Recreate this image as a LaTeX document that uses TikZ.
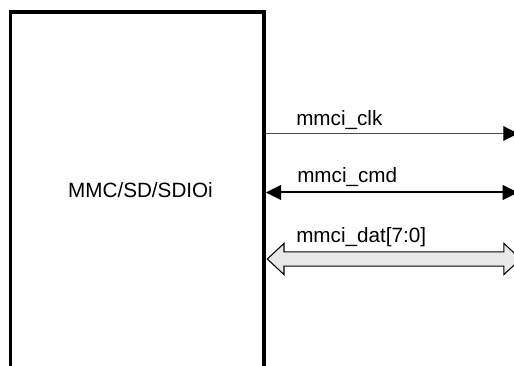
\documentclass[tikz,border=0pt]{standalone}
\usepackage{fontspec}
\setmainfont{Liberation Sans}
\usetikzlibrary{arrows.meta,positioning,shapes.arrows}

\begin{document}
\begin{tikzpicture}[x=0.75pt,y=-0.75pt]
\tikzset{
  blockbox/.style={rectangle,draw=black,line width=2.6pt,minimum width=190pt,minimum height=300pt,inner sep=0pt},
  sigtext/.style={font=\fontsize{15.5}{18}\selectfont,inner sep=0pt,anchor=base west},
  clkline/.style={draw=black!70,line width=0.8pt,-{Triangle[length=11pt,width=11pt,color=black]}},
  cmdline/.style={draw=black,line width=1.5pt,{Triangle[length=11.5pt,width=11pt]}-{Triangle[length=11.5pt,width=11pt]}},
  busarrow/.style={double arrow,draw=black,line width=0.8pt,fill=black!9,inner sep=4.9pt,
    double arrow head extend=6.4pt,double arrow tip angle=86,minimum height=190pt}
}
\useasboundingbox (0,0) rectangle (514,366);
\clip (0,0) rectangle (514,366);
\node[blockbox] (mmc) at (137.3,212) {};
\node[sigtext,anchor=center] (mmcname) at (140.5,190) {MMC/SD/SDIOi};
% signal ends just past the right edge
\coordinate (clkend) at (518,133.5);
\coordinate (cmdend) at (518,192.5);
\draw[clkline] (mmc.east |- clkend) -- (clkend);
\draw[cmdline] (mmc.east |- cmdend) -- (cmdend);
\node[busarrow,anchor=west] (dat) at (266.5,259) {};
\node[sigtext] (clklabel) at (296,126) {mmci\_clk};
\node[sigtext] (cmdlabel) at (297,183) {mmci\_cmd};
\node[sigtext] (datlabel) at (296,243) {mmci\_dat[7:0]};
\end{tikzpicture}
\end{document}
